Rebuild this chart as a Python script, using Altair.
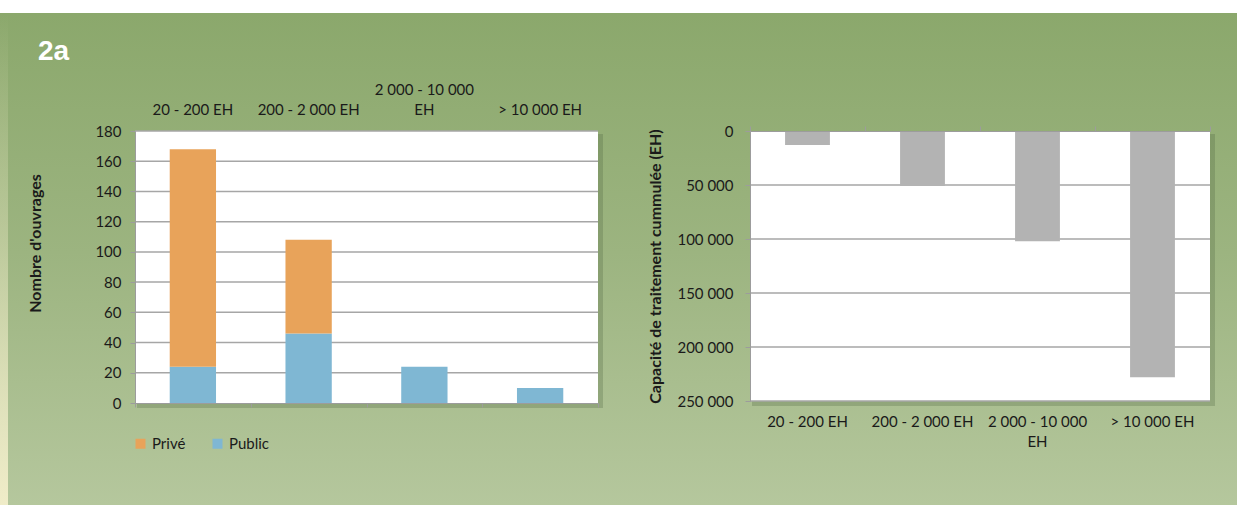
import altair as alt
import pandas as pd

# Size classes of the treatment works (shared by both panels)
categories = ["20 - 200 EH", "200 - 2 000 EH", "2 000 - 10 000 EH", "> 10 000 EH"]

# Left panel: number of works by owner status
public_counts = [24, 46, 24, 10]
private_counts = [144, 62, 0, 0]
owners = ["Privé", "Public"]
owner_colors = ["#e8a35a", "#7fb7d3"]
count_ticks = [0, 20, 40, 60, 80, 100, 120, 140, 160, 180]

# Right panel: cumulated treatment capacity (EH)
capacity_eh = [13000, 51000, 102000, 228000]
capacity_ticks = [0, 50000, 100000, 150000, 200000, 250000]

rows = []
for cat, pub, pri in zip(categories, public_counts, private_counts):
    rows.append({"Tranche": cat, "Statut": "Public", "Nombre": pub, "rang": 0})
    if pri:
        rows.append({"Tranche": cat, "Statut": "Privé", "Nombre": pri, "rang": 1})
counts = pd.DataFrame(rows)
capacity = pd.DataFrame({"Tranche": categories, "Capacite": capacity_eh})
single = pd.DataFrame({"k": [0]})

# Canvas and panel geometry
CANVAS_W, CANVAS_H = 1237, 505
X0, Y0 = 135, 131          # top-left of the left plot area on the canvas
W1, H1 = 463, 272
W2, H2 = 460, 270
GAP = 152

FONT = "Lato"
FS = 15
TFS = 16
TEXT = "#1a1a1a"
GRID = "#a6a6a6"
AXIS = "#9c9c9c"

# Bottom-axis labels wrap downwards; top-axis labels get an empty first line
# so that the wrapped label grows upwards while the others stay aligned.
wrap_down = "datum.label == '2 000 - 10 000 EH' ? ['2 000 - 10 000', 'EH'] : datum.label"
wrap_up = "datum.label == '2 000 - 10 000 EH' ? ['2 000 - 10 000', 'EH'] : ['', datum.label]"

x_scale = alt.Scale(domain=categories, paddingInner=0, paddingOuter=0)
y1_scale = alt.Scale(domain=[0, 180], nice=False, zero=True)
y2_scale = alt.Scale(domain=[0, 250000], nice=False, reverse=True)

y1_axis = alt.Axis(
    values=count_ticks, grid=False, domainColor=AXIS, tickColor=AXIS,
    tickSize=5, labelFont=FONT, labelFontSize=FS, labelColor=TEXT,
    labelPadding=9, title="Nombre d'ouvrages", titleFont=FONT,
    titleFontSize=TFS, titleFontWeight="bold", titleColor=TEXT,
    titleAngle=270, titleX=-100, titleY=112, titleAlign="center",
    titleBaseline="middle", zindex=1,
)
y2_axis = alt.Axis(
    values=capacity_ticks, grid=False, domainColor=AXIS, tickColor=AXIS,
    tickSize=5, labelFont=FONT, labelFontSize=FS, labelColor=TEXT,
    labelPadding=12,
    labelExpr="replace(format(datum.value, ','), ',', ' ')",
    title="Capacité de traitement cummulée (EH)", titleFont=FONT,
    titleFontSize=TFS, titleFontWeight="bold", titleColor=TEXT,
    titleAngle=270, titleX=-95, titleY=H2 / 2, titleAlign="center",
    titleBaseline="middle", zindex=1,
)


def backdrop(w, h):
    shadow = alt.Chart(single).mark_rect(color="#4f6340", opacity=0.28).encode(
        x=alt.value(2), x2=alt.value(w + 5), y=alt.value(3), y2=alt.value(h + 5)
    )
    plot = alt.Chart(single).mark_rect(color="white").encode(
        x=alt.value(0), x2=alt.value(w), y=alt.value(0), y2=alt.value(h)
    )
    return shadow, plot


# Slide background: white band on top, then a vertical green gradient
page_fill = alt.LinearGradient(
    gradient="linear", x1=0, x2=0, y1=0, y2=1,
    stops=[
        alt.GradientStop(color="#ffffff", offset=0),
        alt.GradientStop(color="#ffffff", offset=0.0255),
        alt.GradientStop(color="#8ba86c", offset=0.0257),
        alt.GradientStop(color="#9cb480", offset=0.5),
        alt.GradientStop(color="#b5c79d", offset=1),
    ],
)
page = alt.Chart(single).mark_rect(color=page_fill).encode(
    x=alt.value(-X0), x2=alt.value(CANVAS_W - X0),
    y=alt.value(-Y0), y2=alt.value(CANVAS_H - Y0),
)
edge_fill = alt.LinearGradient(
    gradient="linear", x1=0, x2=0, y1=0, y2=1,
    stops=[
        alt.GradientStop(color="rgba(246,240,205,0)", offset=0),
        alt.GradientStop(color="rgba(246,240,205,0.35)", offset=0.45),
        alt.GradientStop(color="rgba(246,240,205,0.9)", offset=1),
    ],
)
edge = alt.Chart(single).mark_rect(color=edge_fill).encode(
    x=alt.value(-X0), x2=alt.value(-X0 + 8),
    y=alt.value(13 - Y0), y2=alt.value(CANVAS_H - Y0),
)
heading = alt.Chart(single).mark_text(
    text="2a", font="Liberation Sans", fontSize=28, fontWeight="bold",
    color="white", align="left", baseline="alphabetic",
).encode(x=alt.value(38 - X0), y=alt.value(60 - Y0))

# ---- Left panel: stacked counts ----
shadow1, plot1 = backdrop(W1, H1)
grid1 = alt.Chart(pd.DataFrame({"v": count_ticks[1:]})).mark_rule(
    color=GRID, strokeWidth=1.5
).encode(y=alt.Y("v:Q", scale=y1_scale, axis=y1_axis))

bars1 = alt.Chart(counts).mark_bar(width=alt.RelativeBandSize(0.4)).encode(
    x=alt.X(
        "Tranche:N", sort=categories, scale=x_scale,
        axis=alt.Axis(
            orient="bottom", labels=False, title=None, tickBand="extent",
            tickSize=4, tickColor=AXIS, domainColor=AXIS, zindex=1,
        ),
    ),
    y=alt.Y("Nombre:Q", stack="zero", scale=y1_scale, axis=y1_axis),
    color=alt.Color(
        "Statut:N",
        scale=alt.Scale(domain=owners, range=owner_colors),
        legend=alt.Legend(
            title=None, orient="none", legendX=-2, legendY=305,
            direction="horizontal", symbolType="square", symbolSize=100,
            symbolStrokeWidth=0, labelFont=FONT, labelFontSize=FS,
            labelColor=TEXT, columnPadding=24, labelOffset=4, padding=0,
            zindex=1,
        ),
    ),
    order=alt.Order("rang:Q"),
)

top_labels1 = alt.Chart(capacity[["Tranche"]]).mark_point(opacity=0).encode(
    x=alt.X(
        "Tranche:N", sort=categories, scale=x_scale,
        axis=alt.Axis(
            orient="top", ticks=False, tickSize=0, domain=False, title=None,
            labelAngle=0, labelFont=FONT, labelFontSize=FS, labelColor=TEXT,
            labelPadding=34, labelLineHeight=20, labelExpr=wrap_up, zindex=1,
        ),
    )
)

left = alt.layer(
    page, edge, shadow1, plot1, grid1, bars1, top_labels1, heading
).resolve_axis(x="independent").properties(width=W1, height=H1)

# ---- Right panel: cumulated capacity, hanging bars ----
shadow2, plot2 = backdrop(W2, H2)
grid2 = alt.Chart(pd.DataFrame({"v": capacity_ticks[1:]})).mark_rule(
    color=GRID, strokeWidth=1.5
).encode(y=alt.Y("v:Q", scale=y2_scale, axis=y2_axis))

bars2 = alt.Chart(capacity).mark_bar(
    width=alt.RelativeBandSize(0.39), color="#b3b3b3"
).encode(
    x=alt.X(
        "Tranche:N", sort=categories, scale=x_scale,
        axis=alt.Axis(
            orient="bottom", ticks=False, tickSize=0, domain=False, title=None,
            labelAngle=0, labelFont=FONT, labelFontSize=FS, labelColor=TEXT,
            labelPadding=13, labelLineHeight=20, labelExpr=wrap_down, zindex=1,
        ),
    ),
    y=alt.Y("Capacite:Q", scale=y2_scale, axis=y2_axis),
)

top_ticks2 = alt.Chart(capacity[["Tranche"]]).mark_point(opacity=0).encode(
    x=alt.X(
        "Tranche:N", sort=categories, scale=x_scale,
        axis=alt.Axis(
            orient="top", labels=False, title=None, tickBand="extent",
            tickSize=5, tickColor=AXIS, domainColor=AXIS, zindex=1,
        ),
    )
)

right = alt.layer(
    shadow2, plot2, grid2, bars2, top_ticks2
).resolve_axis(x="independent").properties(width=W2, height=H2)

chart = (
    alt.hconcat(left, right, spacing=GAP, bounds="flush")
    .properties(padding=0, background="white")
    .configure_view(stroke=None)
)

chart.save("out.html", embed_options={"renderer": "svg", "actions": False})
